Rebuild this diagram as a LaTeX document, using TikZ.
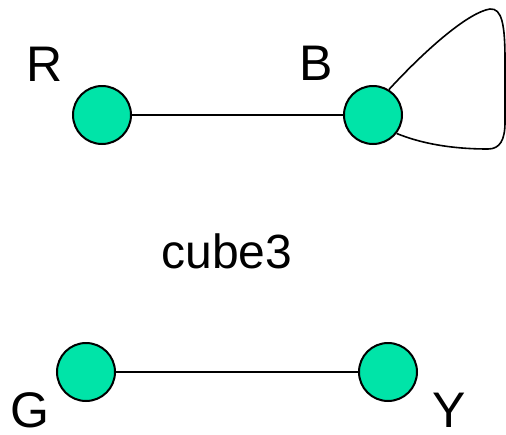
\documentclass[tikz,border=0pt]{standalone}
\usepackage{fontspec}
\setmainfont{Liberation Sans}
\definecolor{nodegreen}{RGB}{0,228,168}
\begin{document}
\begin{tikzpicture}[x=1pt,y=-1pt,
  vertex/.style={circle,draw=black,line width=2pt,fill=nodegreen,minimum size=58pt,inner sep=0pt},
  lbl/.style={inner sep=0pt,font=\fontsize{50}{60}\selectfont},
  edge/.style={line width=1.6pt}]
\useasboundingbox (0,0) rectangle (506,434);
\node[vertex] (R) at (102,115) {};
\node[vertex] (B) at (373,115) {};
\node[vertex] (G) at (86,372) {};
\node[vertex] (Y) at (388,372) {};
\node[lbl] (lR) at (45,64) {R};
\node[lbl] (lB) at (316,63) {B};
\node[lbl] (lG) at (30,410) {G};
\node[lbl] (lY) at (449,410) {Y};
\node[lbl,font=\fontsize{48}{58}\selectfont] (title) at (227,251) {cube3};
\draw[edge] (R) -- (B);
\draw[edge] (G) -- (Y);
\draw[edge] (B.58) .. controls (430,45) and (470,12) .. (490,9)
  .. controls (502,8) and (505,25) .. (505,60) -- (505,122)
  .. controls (505,140) and (500,149) .. (488,149)
  .. controls (450,149) and (420,143) .. (B.-38);
\end{tikzpicture}
\end{document}
